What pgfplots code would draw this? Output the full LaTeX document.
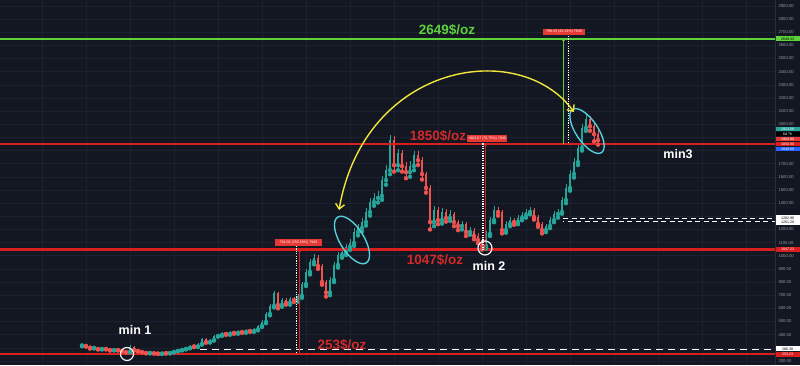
\documentclass[border=0pt]{standalone}
\usepackage{fontspec}
\setmainfont{Liberation Sans}
\usepackage{pgfplots}
\pgfplotsset{compat=1.18}
\usepackage{pgfplotstable}
\usetikzlibrary{arrows.meta}
\definecolor{bgcol}{HTML}{131722}
\definecolor{gridcol}{HTML}{1C2030}
\definecolor{upcol}{HTML}{26A69A}
\definecolor{dncol}{HTML}{EF5350}
\definecolor{redline}{HTML}{D81E1E}
\definecolor{redtext}{HTML}{D42A2A}
\definecolor{greenline}{HTML}{5DD23B}
\definecolor{arrowyel}{HTML}{F0E53A}
\definecolor{cyanell}{HTML}{52CFD8}
\definecolor{tickcol}{HTML}{9598A1}
\definecolor{boxred}{HTML}{E53935}
\definecolor{sepcol}{HTML}{2A2E39}
\definecolor{bluebox}{HTML}{2962FF}

\pgfplotstableread{
x o c h l
82 318 321 327 312
94 299 306 311 295
102 291 299 304 287
114 283 291 296 280
130 268 306 318 265
150 261 264 268 257
162 256 262 266 253
170 260 268 272 257
174 268 276 280 265
178 276 283 287 273
182 283 291 296 280
186 291 299 304 288
190 299 314 319 296
198 310 329 335 306
202 329 367 375 325
210 344 359 366 340
214 359 390 398 355
218 390 397 406 384
222 397 413 422 391
230 405 420 429 399
238 413 428 437 407
246 420 435 445 414
254 428 440 450 421
258 440 466 477 433
262 466 496 508 458
266 496 557 571 487
270 557 618 633 547
274 618 717 730 607
282 625 663 678 612
290 641 671 686 628
298 663 694 711 650
302 694 785 804 680
306 785 876 897 770
310 876 952 975 858
314 952 983 1010 935
330 720 815 835 700
334 815 929 950 800
338 929 1005 1030 910
342 1005 1028 1055 985
346 1028 1066 1090 1005
350 1066 1097 1125 1045
354 1097 1180 1210 1075
358 1180 1211 1240 1155
362 1211 1256 1290 1185
366 1256 1332 1365 1230
370 1332 1408 1440 1305
374 1408 1439 1475 1380
378 1439 1454 1490 1405
382 1454 1575 1610 1425
386 1575 1651 1690 1540
390 1651 1880 1920 1620
398 1689 1780 1815 1650
410 1636 1682 1720 1600
414 1682 1765 1800 1650
434 1256 1347 1380 1225
442 1271 1332 1365 1245
450 1287 1317 1345 1265
462 1226 1241 1265 1200
470 1180 1190 1215 1160
486 1074 1165 1185 1055
490 1165 1271 1295 1150
494 1271 1347 1375 1255
506 1195 1241 1265 1175
510 1241 1271 1295 1225
518 1256 1287 1310 1240
522 1287 1309 1330 1270
526 1309 1332 1355 1290
530 1332 1347 1370 1315
546 1195 1226 1245 1180
550 1226 1271 1295 1210
554 1271 1317 1340 1255
558 1317 1332 1355 1290
562 1332 1423 1450 1320
566 1423 1515 1545 1400
570 1515 1621 1650 1495
574 1621 1712 1745 1595
578 1712 1819 1850 1690
582 1819 1971 2000 1800
586 1971 2040 2075 1950
}\uptab

\pgfplotstableread{
x o c h l
86 321 314 325 309
90 314 299 318 294
98 306 291 309 287
106 299 291 302 287
110 291 283 294 279
118 291 283 294 279
122 283 276 286 272
126 276 268 279 264
134 306 283 312 279
138 283 276 287 272
142 276 268 279 265
146 268 261 271 258
154 264 259 267 255
158 259 256 262 253
166 262 260 265 256
194 314 310 320 305
206 367 344 372 338
226 413 405 420 398
234 420 413 428 406
242 428 420 436 413
250 435 428 443 421
278 717 625 728 600
286 663 641 676 628
294 671 663 685 648
318 983 922 1005 900
322 922 800 940 780
326 800 720 815 690
394 1880 1689 1910 1640
402 1780 1682 1805 1640
406 1682 1636 1710 1590
418 1765 1727 1795 1690
422 1727 1621 1750 1580
426 1621 1515 1640 1480
430 1515 1256 1540 1200
438 1347 1271 1370 1240
446 1332 1287 1355 1260
454 1317 1256 1335 1225
458 1256 1226 1275 1195
466 1241 1180 1260 1150
474 1190 1150 1210 1125
478 1150 1119 1170 1095
482 1119 1074 1135 1047
498 1347 1332 1370 1305
502 1332 1195 1345 1170
514 1271 1256 1290 1235
534 1347 1294 1362 1275
538 1294 1241 1310 1220
542 1241 1195 1255 1170
590 2040 1986 2060 1950
594 1986 1925 2010 1870
598 1925 1879 1960 1845
}\dntab

\begin{document}
\begin{tikzpicture}
\useasboundingbox (0,0) rectangle (800pt,365pt);
\fill[bgcol] (0,0) rectangle (800pt,365pt);
\begin{scope}[shift={(0pt,365pt)}, x=1pt, y=-1pt]
  \foreach \xx in {42,86,...,746} \draw[gridcol, line width=0.5pt] (\xx,0) -- (\xx,365);
\end{scope}
\begin{axis}[
  at={(0pt,0pt)}, anchor=south west,
  scale only axis, width=775pt, height=365pt,
  xmin=0, xmax=775, ymin=169, ymax=2945,
  axis line style={draw=none},
  major tick length=0pt,
  xtick=\empty,
  ytick={200,300,...,2900},
  yticklabels={200.00,,400.00,500.00,600.00,700.00,800.00,900.00,1000.00,1100.00,1200.00,,1400.00,1500.00,1600.00,1700.00,,,2000.00,2100.00,2200.00,2300.00,2400.00,2500.00,2600.00,2700.00,2800.00,2900.00},
  yticklabel pos=right,
  ymajorgrids,
  major grid style={draw=gridcol, line width=0.5pt},
  yticklabel style={font=\fontsize{4.2}{5}\selectfont, text=tickcol},
]
% wicks
\addplot[upcol, only marks, mark=none, forget plot, error bars/.cd, y dir=plus, y explicit, error mark=none,
  error bar style={upcol, line width=0.6pt}]
  table[x=x, y=l, y error plus expr=\thisrow{h}-\thisrow{l}] {\uptab};
\addplot[dncol, only marks, mark=none, forget plot, error bars/.cd, y dir=plus, y explicit, error mark=none,
  error bar style={dncol, line width=0.6pt}]
  table[x=x, y=l, y error plus expr=\thisrow{h}-\thisrow{l}] {\dntab};
% bodies
\addplot[upcol, only marks, mark=none, forget plot, error bars/.cd, y dir=plus, y explicit, error mark=none,
  error bar style={upcol, line width=2pt}]
  table[x=x, y=o, y error plus expr=\thisrow{c}-\thisrow{o}] {\uptab};
\addplot[dncol, only marks, mark=none, forget plot, error bars/.cd, y dir=plus, y explicit, error mark=none,
  error bar style={dncol, line width=2pt}]
  table[x=x, y=c, y error plus expr=\thisrow{o}-\thisrow{c}] {\dntab};
% level lines
\addplot[redline, line width=1.8pt, forget plot] coordinates {(0,1850.9) (775,1850.9)};
\addplot[redline, line width=2.2pt, forget plot] coordinates {(0,1047.23) (775,1047.23)};
\addplot[redline, line width=1.8pt, forget plot] coordinates {(0,253.23) (775,253.23)};
\addplot[greenline, line width=1.8pt, forget plot] coordinates {(0,2649.33) (775,2649.33)};
\end{axis}

\begin{scope}[shift={(0pt,365pt)}, x=1pt, y=-1pt]
  % separator of price scale
  \fill[sepcol] (774.7,0) rectangle (775.3,365);
  % dashed white lines
  \draw[white, line width=1.3pt, dash pattern=on 7pt off 5pt] (200,349.6) -- (775,349.6);
  \draw[white, line width=1.1pt, dash pattern=on 5pt off 3.5pt] (563,218.6) -- (775,218.6);
  \draw[white, line width=1.1pt, dash pattern=on 5pt off 3.5pt, dash phase=4pt] (563,221.6) -- (775,221.6);
  % measurement verticals
  \draw[white, line width=1.2pt, dash pattern=on 1.2pt off 1.2pt] (296.5,246) -- (296.5,354);
  \draw[redline, line width=1pt, -{Stealth[length=3pt,width=3pt]}] (299.5,354) -- (299.5,249);
  \draw[white, line width=1.2pt, dash pattern=on 1.2pt off 1.2pt] (483,141) -- (483,249.5);
  \draw[redline, line width=1pt, -{Stealth[length=3pt,width=3pt]}] (485.5,249.5) -- (485.5,143);
  \draw[white, line width=1.2pt, dash pattern=on 1.2pt off 1.2pt] (568.5,36) -- (568.5,144);
  \draw[greenline, line width=1pt, -{Stealth[length=3pt,width=3pt]}] (563.5,144) -- (563.5,38);
  % big texts
  \node[text=greenline, font=\fontsize{13.5}{16}\selectfont\bfseries] at (447,30) {2649\$/oz};
  \node[text=redtext, font=\fontsize{13.5}{16}\selectfont\bfseries] at (438,136) {1850\$/oz};
  \node[text=redtext, font=\fontsize{13.5}{16}\selectfont\bfseries] at (435,260) {1047\$/oz};
  \node[text=redtext, font=\fontsize{13.5}{16}\selectfont\bfseries] at (342,345) {253\$/oz};
  \node[text=white, font=\fontsize{12.5}{15}\selectfont\bfseries] at (135,330) {min 1};
  \node[text=white, font=\fontsize{12.5}{15}\selectfont\bfseries] at (489,266) {min 2};
  \node[text=white, font=\fontsize{12.5}{15}\selectfont\bfseries] at (678,154) {min3};
  % measurement boxes
  \node[fill=boxred, text=white, font=\fontsize{3.6}{4}\selectfont, minimum width=47pt, minimum height=6.5pt, inner sep=0.5pt] at (298.5,242.5) {794.02 (250.59\%) 7940};
  \node[fill=boxred, text=white, font=\fontsize{3.6}{4}\selectfont, minimum width=40pt, minimum height=6.5pt, inner sep=0.5pt] at (487,138.5) {+803.67 (76.75\%) 7940};
  \node[fill=boxred, text=white, font=\fontsize{3.6}{4}\selectfont, minimum width=42pt, minimum height=6.5pt, inner sep=0.5pt] at (564,32) {798.43 (43.13\%) 7940};
  % circles
  \draw[white!90!gray, line width=1.2pt] (127,354) circle [radius=6.5pt];
  \draw[white!90!gray, line width=1.2pt] (485,248) circle [radius=7pt];
  % cyan ellipses
  \begin{scope}[shift={(352,240)}, rotate=-58]
    \draw[cyanell, line width=1.4pt] (0,0) ellipse [x radius=27pt, y radius=12pt];
  \end{scope}
  \begin{scope}[shift={(587,131)}, rotate=-56]
    \draw[cyanell, line width=1.4pt] (0,0) ellipse [x radius=26pt, y radius=11pt];
  \end{scope}
  % yellow arrow
  \draw[arrowyel, line width=1.4pt, {Straight Barb[length=5pt,width=9pt]}-{Straight Barb[length=5pt,width=9pt]}]
    (339,210) .. controls (365,62) and (520,38) .. (574,112);
  % price scale boxes
  \tikzset{pbox/.style={minimum width=24pt, minimum height=4.8pt, inner sep=0.2pt, font=\fontsize{3.6}{4}\selectfont}}
  \node[pbox, fill=greenline, text=black] at (787.5,38.9) {2649.33};
  \node[pbox, fill=upcol, text=white] at (787.5,129) {1913.58};
  \node[pbox, fill=black, text=white] at (787.5,134) {6d 7h};
  \node[pbox, fill=boxred, text=white] at (787.5,139) {1903.90};
  \node[pbox, fill=redline, text=white] at (787.5,144) {1850.90};
  \node[pbox, fill=bluebox, text=white] at (787.5,149) {1849.60};
  \node[pbox, fill=white, text=black, minimum height=10pt, align=center, font=\fontsize{3.6}{4.6}\selectfont] at (787.5,220.2) {1282.90\\1261.29};
  \node[pbox, fill=redline, text=white] at (787.5,249.6) {1047.23};
  \node[pbox, fill=white, text=black] at (787.5,348.8) {286.38};
  \node[pbox, fill=redline, text=white] at (787.5,354.2) {253.23};
\end{scope}
\end{tikzpicture}
\end{document}
